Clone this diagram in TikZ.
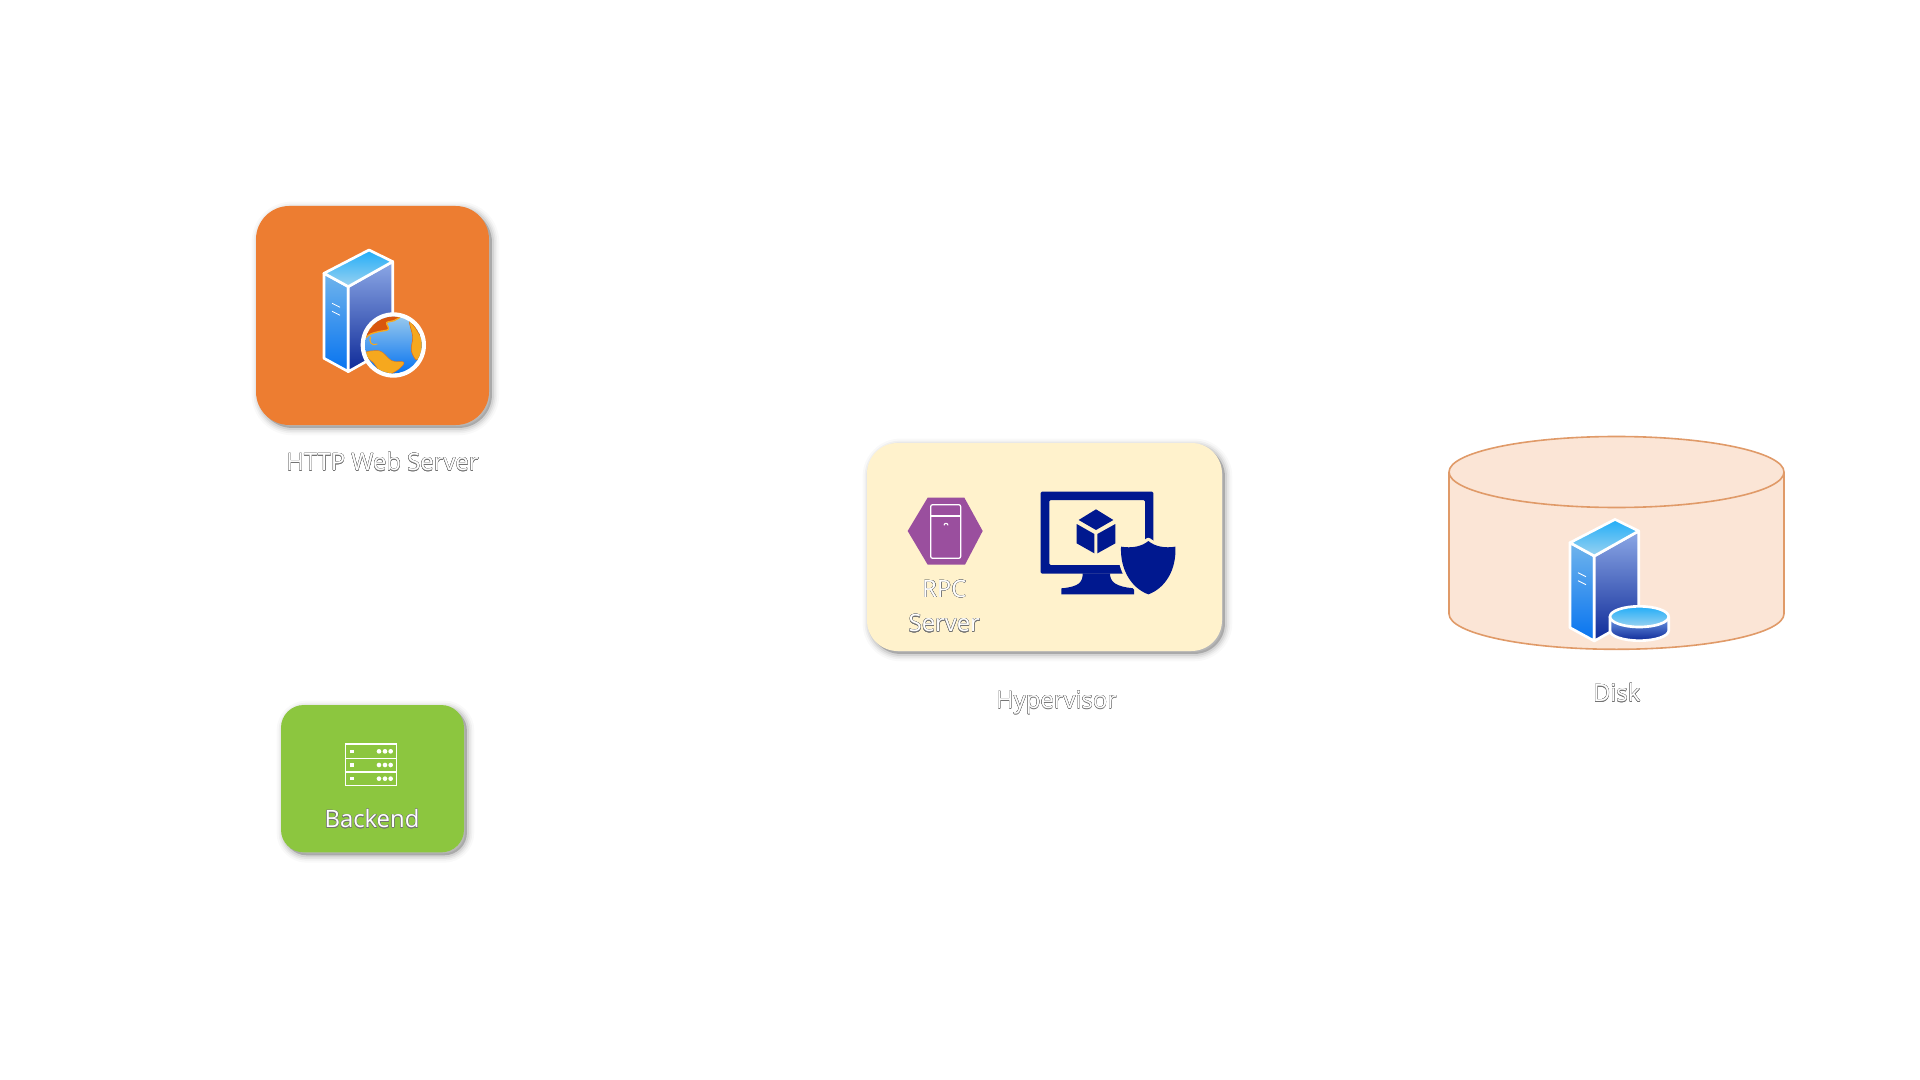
\documentclass[tikz,border=0pt]{standalone}
\usepackage{fontspec}
\usepackage[copies]{contour}
\setmainfont{Open Sans}
\usetikzlibrary{shapes.geometric}
\definecolor{boxorange}{HTML}{ED7D31}
\definecolor{boxgreen}{HTML}{8CC63F}
\definecolor{boxcream}{HTML}{FFF2CC}
\definecolor{diskfill}{HTML}{FBE5D6}
\definecolor{diskline}{HTML}{E09A68}
\definecolor{hexpurple}{HTML}{9A4F9E}
\definecolor{iconnavy}{HTML}{00188F}
\definecolor{skyhi}{HTML}{22ADF8}
\definecolor{skylo}{HTML}{9AD2F0}
\definecolor{faceltop}{HTML}{70B4EC}
\definecolor{facelbot}{HTML}{0673F0}
\definecolor{facertop}{HTML}{8CA8E6}
\definecolor{facerbot}{HTML}{0E2A98}
\definecolor{landdark}{HTML}{D9560E}
\definecolor{landgold}{HTML}{F6A81E}
\contourlength{0.16pt}
\contournumber{16}
\newcommand{\edgetext}[1]{\contour{black!55}{\textcolor{white}{#1}}}
\tikzset{
  softshadow/.style={
    preaction={draw=black,opacity=.025,line width=11pt,transform canvas={xshift=2.2pt,yshift=-2.2pt}},
    preaction={draw=black,opacity=.035,line width=8pt,transform canvas={xshift=2.2pt,yshift=-2.2pt}},
    preaction={draw=black,opacity=.05,line width=5.5pt,transform canvas={xshift=2.2pt,yshift=-2.2pt}},
    preaction={draw=black,opacity=.07,line width=3pt,transform canvas={xshift=2.2pt,yshift=-2.2pt}},
    preaction={fill=black,opacity=.2,transform canvas={xshift=2.2pt,yshift=-2.2pt}}},
  tilebox/.style={rectangle,rounded corners=#1,inner sep=0pt,softshadow},
  caption/.style={font=\fontsize{17.9pt}{20pt}\selectfont,inner sep=0pt},
  iconline/.style={draw=white,line width=2pt,line join=round},
  pics/servertower/.style={code={
    \shadedraw[iconline,top color=faceltop,bottom color=facelbot] (0,0) -- (24.3,13.3) -- (24.3,98.3) -- (0,85) -- cycle;
    \shadedraw[iconline,top color=facertop,bottom color=facerbot] (24.3,13.3) -- (68.7,-11.7) -- (68.7,73.3) -- (24.3,98.3) -- cycle;
    \shadedraw[iconline,top color=skyhi,bottom color=skylo] (0,0) -- (45,-23.3) -- (68.7,-11.7) -- (24.3,13.3) -- cycle;
    \draw[white,line width=.6pt] (8,30) -- (16,34) (8,38) -- (16,42);
  }}
}
\begin{document}
\begin{tikzpicture}[x=0.75pt,y=-0.75pt]
  \useasboundingbox (0,0) rectangle (1920,1080);
  % tiles
  \node[tilebox=25pt,fill=boxorange,minimum width=174.75pt,minimum height=164.25pt] (webtile) at (372.5,315.5) {};
  \node[tilebox=17pt,fill=boxgreen,minimum width=137.25pt,minimum height=110.5pt] (backtile) at (372.5,778.7) {};
  \node[tilebox=23pt,fill=boxcream,minimum width=266.25pt,minimum height=156pt] (hypertile) at (1044.5,547) {};
  % disk
  \draw[fill=diskfill,draw=diskline,line width=1.2pt] (1449,472) -- (1449,613.8) arc[start angle=180,end angle=0,x radius=167.5,y radius=35.5] -- (1784,472);
  \draw[fill=diskfill,draw=diskline,line width=1.2pt] (1616.5,472) ellipse[x radius=167.5,y radius=35.5];
  % server icons
  \pic at (324,273.3) {servertower};
  \pic at (1570,542.7) {servertower};
  % globe
  \begin{scope}[shift={(240,190)},x=0.25pt,y=-0.25pt]
    \fill[white] (460,465) circle (98);
    \begin{scope}
      \clip (460,465) circle (85);
      \shade[top color=skylo!75!facertop,bottom color=facelbot] (375,380) rectangle (545,550);
      \fill[landdark,draw=landgold,line width=1pt] plot[smooth cycle,tension=.6] coordinates {(372,445) (392,412) (430,378) (490,372) (462,392) (440,398) (445,418) (415,425) (392,432)};
      \draw[landgold,line width=.8pt] (392,440) .. controls (385,455) and (395,470) .. (412,462);
      \fill[landgold,draw=landdark!70!landgold,line width=.4pt] plot[smooth cycle,tension=.6] coordinates {(508,395) (530,420) (550,465) (532,510) (514,482) (518,440)};
      \fill[landgold,draw=landdark!60!landgold,line width=.3pt] plot[smooth cycle,tension=.6] coordinates {(372,490) (420,483) (455,512) (492,517) (470,542) (430,556) (402,520)};
    \end{scope}
  \end{scope}
  % disc
  \begin{scope}[shift={(1430,420)},x=0.25pt,y=-0.25pt]
    \shadedraw[iconline,top color=facertop!80!facelbot,bottom color=facerbot] (540,590) -- (540,632) arc[start angle=180,end angle=0,x radius=88,y radius=30] -- (716,590) -- cycle;
    \shadedraw[iconline,top color=skyhi,bottom color=skylo] (628,590) ellipse[x radius=88,y radius=31];
  \end{scope}
  % rack in backend tile
  \begin{scope}[shift={(270,690)},x=0.25pt,y=-0.25pt]
    \draw[white,line width=.95pt] (227,162) rectangle (380,287) (227,205) -- (380,205) (227,246) -- (380,246);
    \foreach \rowy in {184,225,266}{
      \fill[white] (241,\rowy-5) rectangle (251,\rowy+5);
      \foreach \dotx in {327,345,362}
        \fill[white] (\dotx,\rowy) circle (7);}
  \end{scope}
  % hexagon and monitor
  \begin{scope}[shift={(860,430)},x=0.25pt,y=-0.25pt]
    \fill[hexpurple] (143,303) -- (203,203) -- (313,203) -- (368,303) -- (315,404) -- (203,404) -- cycle;
    \draw[white,line width=.95pt,rounded corners=1.5pt] (212,224) rectangle (302,385);
    \draw[white,line width=.95pt] (212,258) -- (302,258);
    \draw[white,line width=.8pt] (252,286) arc[start angle=180,end angle=360,radius=6];
    \fill[iconnavy,even odd rule,rounded corners=1pt] (542,185) rectangle (880,431) (568,210) rectangle (855,405);
    \fill[iconnavy] (668,430) .. controls (668,455) and (660,470) .. (604,475) -- (604,493) -- (822,493) -- (822,475) .. controls (765,470) and (750,455) .. (750,430) -- cycle;
    \fill[iconnavy] (708,238) -- (760,270) -- (708,300) -- (656,270) -- cycle;
    \fill[iconnavy] (650,282) -- (703,312) -- (703,370) -- (650,340) -- cycle;
    \fill[iconnavy] (766,282) -- (712,312) -- (712,370) -- (766,340) -- cycle;
    \path[fill=iconnavy,preaction={draw=boxcream,line width=4.8pt,line join=round}] (865,333) .. controls (885,350) and (915,355) .. (946,350) .. controls (950,420) and (915,475) .. (865,493) .. controls (815,475) and (780,420) .. (783,350) .. controls (815,355) and (845,350) .. cycle;
  \end{scope}
  % labels
  \node[caption] (weblabel) at (382.5,462) {\edgetext{HTTP Web Server}};
  \node[caption] (backlabel) at (372,819) {\edgetext{Backend}};
  \node[caption] (rpclabel) at (944.3,589) {\edgetext{RPC}};
  \node[caption] (serverlabel) at (944.3,623.5) {\edgetext{Server}};
  \node[caption] (hyperlabel) at (1056.7,703) {\edgetext{Hypervisor}};
  \node[caption] (disklabel) at (1616.7,693) {\edgetext{Disk}};
\end{tikzpicture}
\end{document}
